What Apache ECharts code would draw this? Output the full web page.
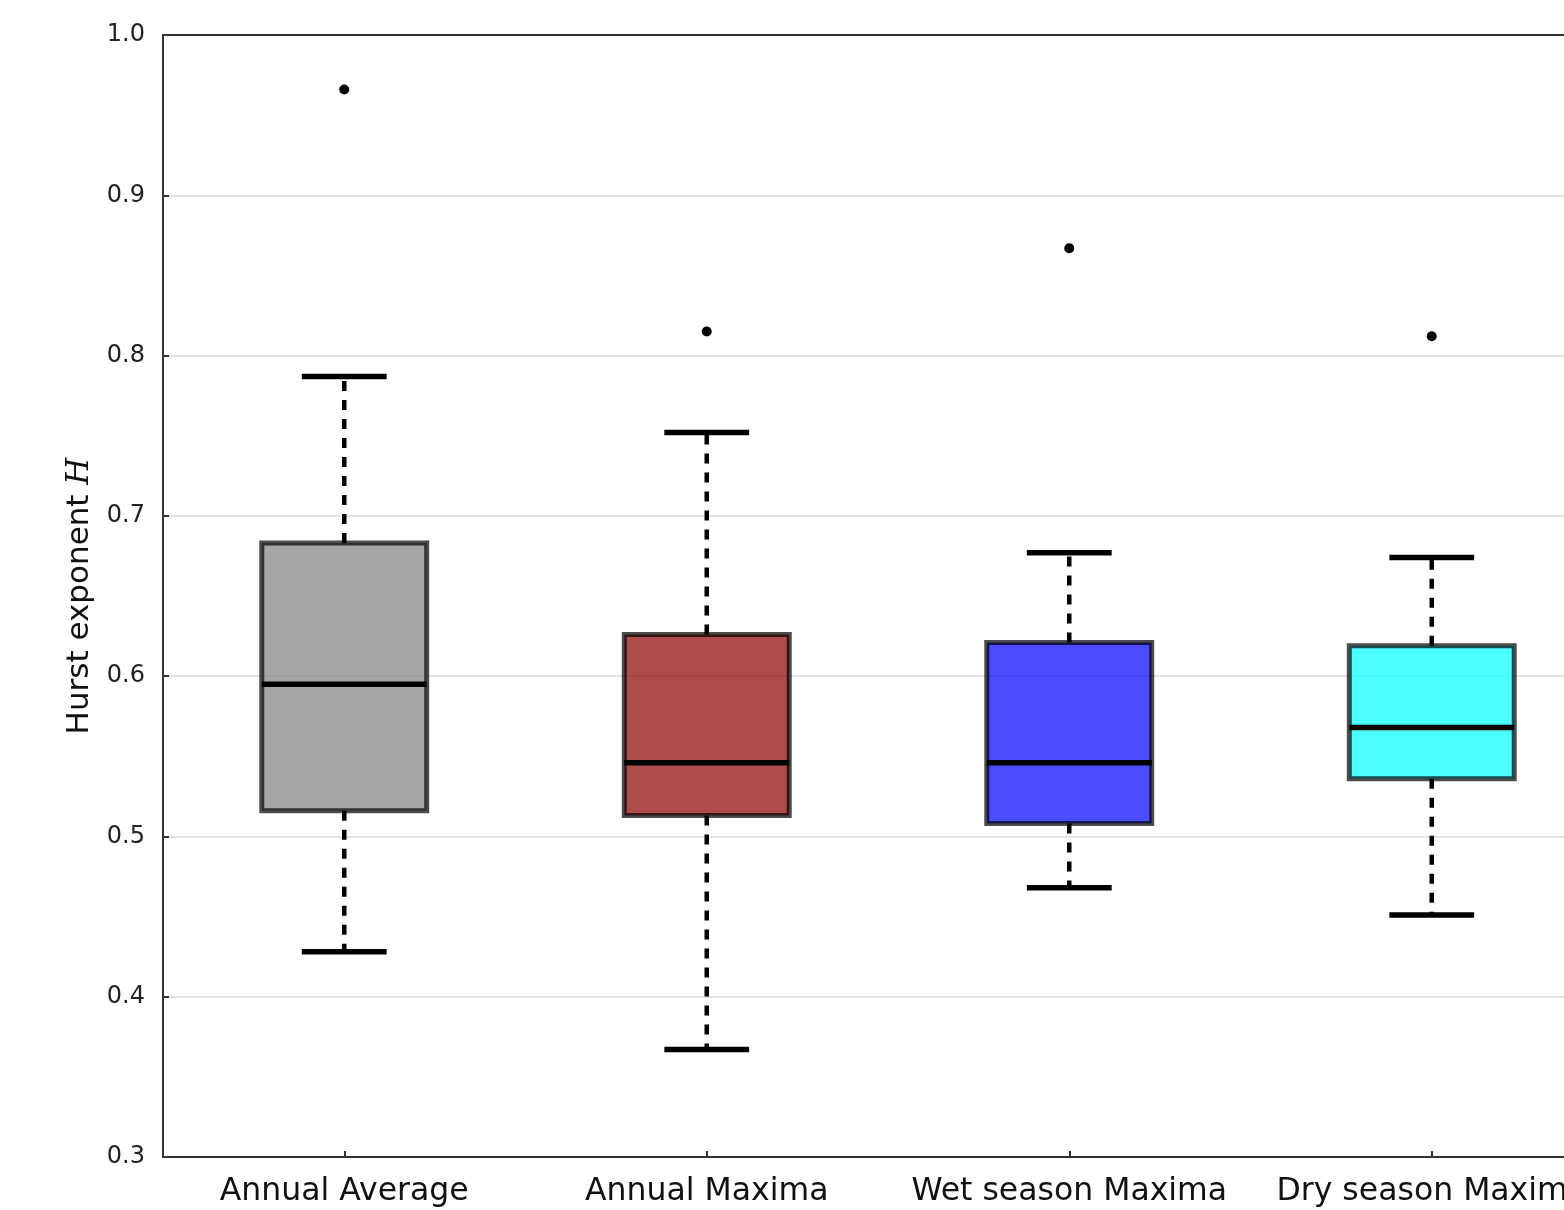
<!DOCTYPE html>
<html>
<head>
<meta charset="utf-8">
<script src="https://cdn.jsdelivr.net/npm/echarts@6/dist/echarts.min.js"></script>
<style>
html,body{margin:0;padding:0;background:#fff;}
#chart{width:1564px;height:1210px;}
</style>
</head>
<body>
<div id="chart"></div>
<script>
const categories = ['Annual Average', 'Annual Maxima', 'Wet season Maxima', 'Dry season Maxima'];
const whiskerLow = [0.428, 0.367, 0.468, 0.451];
const q1 = [0.516, 0.513, 0.508, 0.536];
const median = [0.595, 0.546, 0.546, 0.568];
const q3 = [0.683, 0.626, 0.621, 0.619];
const whiskerHigh = [0.787, 0.752, 0.677, 0.674];
const outliers = [0.966, 0.815, 0.867, 0.812];
const yTicks = [0.3, 0.4, 0.5, 0.6, 0.7, 0.8, 0.9, 1.0];

const boxFills = ['rgba(128,128,128,0.7)', 'rgba(139,0,0,0.7)', 'rgba(0,0,255,0.7)', 'rgba(0,255,255,0.7)'];

const boxData = categories.map((c, i) => [i, whiskerLow[i], q1[i], median[i], q3[i], whiskerHigh[i]]);
const outlierData = categories.map((c, i) => [i, outliers[i]]);

const chart = echarts.init(document.getElementById('chart'), null, {renderer: 'canvas'});

function renderBox(params, api) {
  const x = api.value(0);
  const band = api.size([1, 0])[0];
  const boxW = band * 0.455;
  const capW = band * 0.234;
  const pLow = api.coord([x, api.value(1)]);
  const pQ1 = api.coord([x, api.value(2)]);
  const pMed = api.coord([x, api.value(3)]);
  const pQ3 = api.coord([x, api.value(4)]);
  const pHigh = api.coord([x, api.value(5)]);
  const cx = pQ1[0];
  const dashStyle = {stroke: '#000', lineWidth: 4.5, lineDash: [10, 9]};
  const capStyle = {stroke: '#000', lineWidth: 5.5};
  return {
    type: 'group',
    children: [
      {type: 'line', shape: {x1: cx, y1: pQ1[1], x2: cx, y2: pLow[1]}, style: dashStyle},
      {type: 'line', shape: {x1: cx, y1: pQ3[1], x2: cx, y2: pHigh[1]}, style: dashStyle},
      {type: 'line', shape: {x1: cx - capW / 2, y1: pLow[1], x2: cx + capW / 2, y2: pLow[1]}, style: capStyle},
      {type: 'line', shape: {x1: cx - capW / 2, y1: pHigh[1], x2: cx + capW / 2, y2: pHigh[1]}, style: capStyle},
      {type: 'rect', shape: {x: cx - boxW / 2, y: pQ3[1], width: boxW, height: pQ1[1] - pQ3[1]},
        style: {fill: boxFills[params.dataIndex], stroke: 'rgba(0,0,0,0.7)', lineWidth: 5}},
      {type: 'line', shape: {x1: cx - boxW / 2, y1: pMed[1], x2: cx + boxW / 2, y2: pMed[1]}, style: {stroke: '#000', lineWidth: 5.5}}
    ]
  };
}

chart.setOption({
  animation: false,
  backgroundColor: '#fff',
  grid: {left: 163, top: 35, bottom: 53, width: 1450, outerBoundsMode: 'none', containLabel: false},
  xAxis: [{
    type: 'category',
    data: categories,
    boundaryGap: true,
    axisLine: {show: true, lineStyle: {color: '#333', width: 2}},
    axisTick: {show: true, inside: true, alignWithLabel: true, length: 6, lineStyle: {color: '#333', width: 2}},
    axisLabel: {interval: 0, fontSize: 31.5, fontFamily: 'DejaVu Sans', color: '#111', margin: 19},
    splitLine: {show: false}
  }, {
    type: 'category',
    position: 'top',
    data: categories,
    axisLine: {show: true, lineStyle: {color: '#333', width: 2}},
    axisTick: {show: false},
    axisLabel: {show: false},
    splitLine: {show: false}
  }],
  yAxis: {
    type: 'value',
    min: 0.3,
    max: 1.0,
    interval: 0.1,
    name: 'Hurst exponent {i|H}',
    nameLocation: 'middle',
    nameRotate: 90,
    nameGap: 68,
    nameTextStyle: {
      fontSize: 31, fontFamily: 'DejaVu Sans', color: '#111',
      rich: {i: {fontSize: 31, fontFamily: 'DejaVu Serif', fontStyle: 'italic', color: '#111'}}
    },
    axisLine: {show: true, lineStyle: {color: '#333', width: 2}},
    axisTick: {show: true, inside: true, length: 6, lineStyle: {color: '#333', width: 2}},
    axisLabel: {fontSize: 24, fontFamily: 'DejaVu Sans', color: '#222', margin: 18,
      formatter: v => { const t = yTicks.find(k => Math.abs(k - v) < 1e-6); return (t !== undefined ? t : v).toFixed(1); }},
    splitLine: {show: true, lineStyle: {color: '#e3e3e3', width: 2}}
  },
  series: [
    {
      type: 'custom',
      data: boxData,
      encode: {x: 0, y: [1, 2, 3, 4, 5]},
      renderItem: renderBox,
      z: 3
    },
    {
      type: 'scatter',
      data: outlierData,
      symbol: 'circle',
      symbolSize: 10,
      itemStyle: {color: '#000', opacity: 1},
      z: 4
    }
  ]
});
</script>
</body>
</html>
